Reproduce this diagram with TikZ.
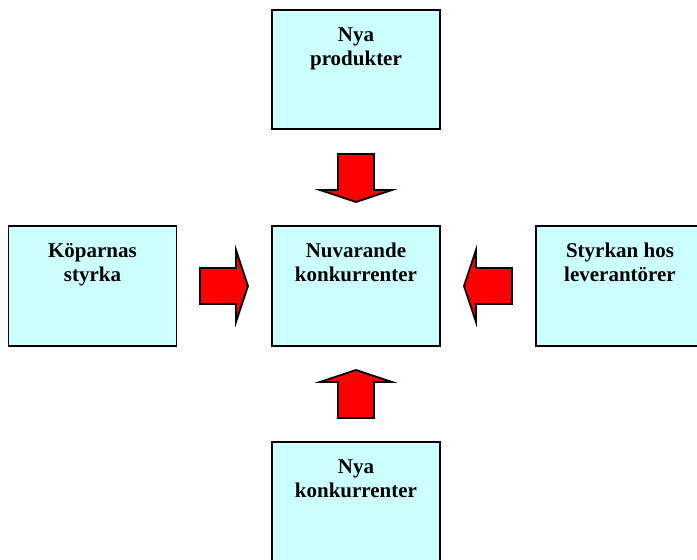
\documentclass[tikz,border=0pt]{standalone}
\usepackage{fontspec}
\setmainfont{Liberation Serif}
\definecolor{boxfill}{HTML}{CCFFFF}
\definecolor{arrowred}{HTML}{FF0000}
\begin{document}
\begin{tikzpicture}[x=1pt,y=-1pt,
  box/.style={draw=black, line width=1.6pt, fill=boxfill,
    minimum width=168pt, minimum height=120pt, inner sep=0pt},
  lbl/.style={font=\fontsize{21}{24}\selectfont\bfseries, align=center,
    anchor=north, inner sep=0pt},
  blockarrow/.pic={
    \draw[line width=1.8pt, fill=arrowred, line join=miter]
      (-24,-18) -- (12,-18) -- (12,-36) -- (24,0) -- (12,36) -- (12,18)
      -- (-24,18) -- cycle;}
]
\useasboundingbox (0,0) rectangle (697,560);
\clip (0,0) rectangle (697,560);

% the five forces
\node[box, minimum height=119pt] (nyaprod) at (356,69.5) {};
\node[box] (nuv)   at (356,286) {};
\node[box] (kop)   at (92.5,286) {};
\node[box] (lev)   at (620,286) {};
\node[box] (nyakonk) at (356,502) {};

\node[lbl] at ([yshift=-18pt]nyaprod.north) {Nya\\produkter};
\node[lbl] at ([yshift=-18pt]nuv.north) {Nuvarande\\konkurrenter};
\node[lbl] at ([yshift=-18pt]kop.north) {Köparnas\\styrka};
\node[lbl] at ([yshift=-18pt]lev.north) {Styrkan hos\\leverantörer};
\node[lbl] at ([yshift=-18pt]nyakonk.north) {Nya\\konkurrenter};

% block arrows pointing at the centre box
\pic[rotate=-90] at (356,178) {blockarrow};
\pic at (224,286) {blockarrow};
\pic[rotate=180] at (488,286) {blockarrow};
\pic[rotate=90] at (356,394) {blockarrow};
\end{tikzpicture}
\end{document}
